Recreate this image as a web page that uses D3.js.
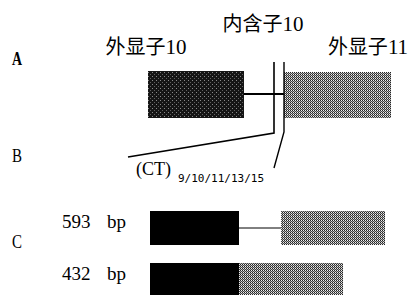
<!DOCTYPE html>
<html lang="zh">
<head>
<meta charset="UTF-8">
<title>外显子10 / 内含子10 / 外显子11</title>
<script src="https://d3js.org/d3.v7.min.js"></script>
<style>
  body { margin: 0; background: #fff; }
  text { font-family: "Liberation Serif", "DejaVu Serif", serif; fill: #000; }
  .cjk { font-family: "Noto Sans CJK SC", sans-serif; }
  .num { font-family: "Liberation Serif", serif; }
  .mono { font-family: "DejaVu Sans Mono", "Liberation Mono", monospace; }
</style>
</head>
<body>
<svg id="chart"></svg>
<script>
// panel labels
const panels = ["A", "B", "C"];
// gene structure (panel A), in drawing units
const exonNames = [["外显子", "10"], ["内含子", "10"], ["外显子", "11"]];
const exon10 = [0, 96];
const intron10 = [96, 136];
const exon11 = [136, 243];
// transcript rows (panel C)
const sizes = ["593 bp", "432 bp"];
const rowExon10 = [[0, 89], [0, 89]];
const rowIntron = [[89, 131], null];
const rowExon11 = [[131, 235], [89, 193]];
const repeatLabel = "(CT)";
const repeatCounts = "9/10/11/13/15";

const W = 413, H = 295;
const svg = d3.select("#chart").attr("width", W).attr("height", H);

const defs = svg.append("defs");
const dark = defs.append("pattern").attr("id", "dark")
  .attr("patternUnits", "userSpaceOnUse").attr("width", 4).attr("height", 4);
dark.append("rect").attr("width", 4).attr("height", 4).attr("fill", "#151515");
dark.append("rect").attr("x", 0).attr("y", 0).attr("width", 1).attr("height", 1).attr("fill", "#8a8a8a");
dark.append("rect").attr("x", 2).attr("y", 2).attr("width", 1).attr("height", 1).attr("fill", "#606060");
const light = defs.append("pattern").attr("id", "light")
  .attr("patternUnits", "userSpaceOnUse").attr("width", 2).attr("height", 2);
light.append("rect").attr("x", 0).attr("y", 0).attr("width", 1).attr("height", 1).attr("fill", "#222");
light.append("rect").attr("x", 1).attr("y", 0).attr("width", 1).attr("height", 1).attr("fill", "#f0f0f0");
light.append("rect").attr("x", 0).attr("y", 1).attr("width", 1).attr("height", 1).attr("fill", "#aaa");
light.append("rect").attr("x", 1).attr("y", 1).attr("width", 1).attr("height", 1).attr("fill", "#444");

const xA = d3.scaleLinear().domain([0, 243]).range([148, 391]);
const xC = d3.scaleLinear().domain([0, 235]).range([150, 385]);

// panel letters
const yPanel = d3.scaleOrdinal().domain(panels).range([65, 162, 248]);
svg.selectAll(".panel").data(panels).enter().append("text")
  .attr("x", 12).attr("y", d => yPanel(d))
  .attr("font-size", 19).attr("font-weight", (d, i) => i === 0 ? "bold" : "normal")
  .attr("textLength", 10).attr("lengthAdjust", "spacingAndGlyphs")
  .text(d => d);

// panel A titles
const titlePos = [[146, 54], [263, 31], [368, 54]];
exonNames.forEach((n, i) => {
  const t = svg.append("text").attr("class", "cjk")
    .attr("x", titlePos[i][0]).attr("y", titlePos[i][1])
    .attr("text-anchor", "middle").attr("font-size", 20);
  t.append("tspan").text(n[0]);
  t.append("tspan").attr("class", "num").attr("font-size", 21).text(n[1]);
});

// panel A boxes
const aTop = 71, aBot = 118, aMid = 94;
svg.append("rect").attr("x", xA(exon10[0])).attr("y", aTop)
  .attr("width", xA(exon10[1]) - xA(exon10[0])).attr("height", aBot - aTop)
  .attr("fill", "url(#dark)");
svg.append("rect").attr("x", xA(exon11[0])).attr("y", aTop + 1)
  .attr("width", xA(exon11[1]) - xA(exon11[0])).attr("height", aBot - aTop - 1)
  .attr("fill", "url(#light)");
svg.append("line").attr("x1", xA(intron10[0])).attr("x2", xA(intron10[1]))
  .attr("y1", aMid).attr("y2", aMid).attr("stroke", "#000").attr("stroke-width", 2);

// zoom lines into panel B
const line = d3.line();
svg.append("path").attr("d", line([[274, 62], [274, 133], [128, 157]]))
  .attr("fill", "none").attr("stroke", "#000").attr("stroke-width", 1.6);
svg.append("path").attr("d", line([[284, 62], [284, 132], [274, 168]]))
  .attr("fill", "none").attr("stroke", "#000").attr("stroke-width", 1.4);

// panel B texts
svg.append("text").attr("x", 136).attr("y", 175).attr("font-size", 18).text(repeatLabel);
svg.append("text").attr("class", "mono").attr("x", 178).attr("y", 182)
  .attr("font-size", 11).text(repeatCounts);

// panel C rows
const yRow = d3.scaleBand().domain(sizes).range([211, 297]).paddingInner(0.346).paddingOuter(0);
sizes.forEach(s => {
  const parts = s.split(" ");
  const t = svg.append("text").attr("y", yRow(s) + 17).attr("font-size", 19);
  t.append("tspan").attr("x", 62).text(parts[0]);
  t.append("tspan").attr("x", 107).text(parts[1]);
});

sizes.forEach((s, i) => {
  const y0 = yRow(s), h = yRow.bandwidth();
  svg.append("rect").attr("x", xC(rowExon10[i][0])).attr("y", y0)
    .attr("width", xC(rowExon10[i][1]) - xC(rowExon10[i][0])).attr("height", h)
    .attr("fill", "#000");
  if (rowIntron[i]) {
    svg.append("line").attr("x1", xC(rowIntron[i][0])).attr("x2", xC(rowIntron[i][1]))
      .attr("y1", y0 + h / 2).attr("y2", y0 + h / 2).attr("stroke", "#000").attr("stroke-width", 1);
  }
  svg.append("rect").attr("x", xC(rowExon11[i][0])).attr("y", y0)
    .attr("width", xC(rowExon11[i][1]) - xC(rowExon11[i][0])).attr("height", h)
    .attr("fill", "url(#light)");
});
</script>
</body>
</html>
